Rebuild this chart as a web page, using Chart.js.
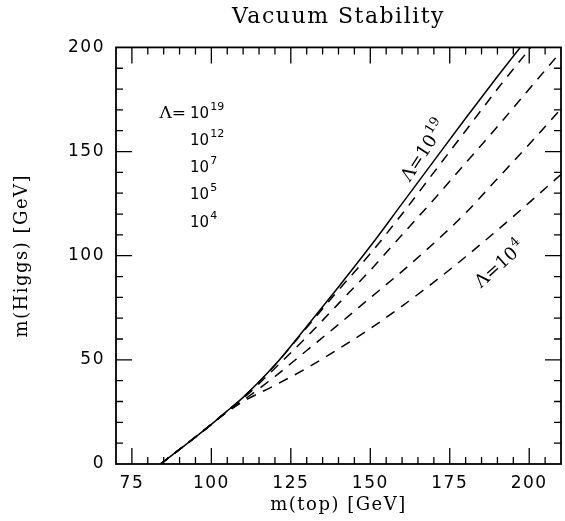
<!DOCTYPE html>
<html lang="en">

<head>
    <meta charset="UTF-8">
    <title>Vacuum Stability</title>
    <script src="https://cdn.jsdelivr.net/npm/chart.js@4.4.9/dist/chart.umd.min.js"></script>
    <style>
        body { margin: 0; background: #fff; }
        canvas { display: block; }
    </style>
</head>

<body>
    <canvas id="graficoHiggs" width="565" height="521"></canvas>
</body>

</html>
<script>
    const mTop = [84, 90, 100, 105, 110, 120, 130, 140, 150, 160, 170, 180, 190, 200, 210];
    // lower bound on m(Higgs) for each cutoff Lambda
    const higgs19 = [0, 7, 19, 25.5, 32, 47.5, 66, 85, 104.5, 125, 145.5, 166, 186, 205.5, 224.5];
    const higgs12 = [0, 7, 19, 25.5, 32, 47.5, 65.5, 83.5, 101, 120, 140, 160, 180, 199, 218];
    const higgs7 = [0, 7, 19, 25.5, 31.5, 46, 61, 77, 93, 110, 127, 144.5, 162, 180, 198];
    const higgs5 = [0, 7, 19, 25, 30.5, 42, 54.5, 67, 79.8, 92.5, 106, 120.5, 137, 153.5, 170.5];
    const higgs4 = [0, 7, 19, 25, 30, 37.8, 46, 55.2, 65, 75.8, 87.3, 99.5, 112.3, 125.5, 139];

    const xTicks = [75, 100, 125, 150, 175, 200];
    const yTicks = [0, 50, 100, 150, 200];
    const expoentes = ['19', '12', '7', '5', '4'];

    function pontos(ys) {
        return mTop.map(function (x, i) { return { x: x, y: ys[i] }; });
    }

    function serie(ys, tracejado) {
        return {
            data: pontos(ys),
            borderColor: '#000',
            borderWidth: 1.5,
            borderDash: tracejado ? [10, 8] : [],
            pointRadius: 0,
            cubicInterpolationMode: 'monotone',
            fill: false
        };
    }

    // base text + raised exponent, starting at x
    function textoExpoente(ctx, x, y, base, exp, fonteBase, fonteExp, subida) {
        ctx.font = fonteBase;
        ctx.fillText(base, x, y);
        const w = ctx.measureText(base).width;
        ctx.font = fonteExp;
        ctx.fillText(exp, x + w + 1, y - subida);
    }

    const moldura = {
        id: 'moldura',
        beforeDraw(chart) {
            chart.ctx.letterSpacing = '1.5px';
        },
        beforeDatasetsDraw(chart) {
            chart.ctx.letterSpacing = '0px';
        },
        afterDraw(chart) {
            const ctx = chart.ctx;
            const a = chart.chartArea;
            const sx = chart.scales.x;
            const sy = chart.scales.y;
            ctx.save();
            ctx.letterSpacing = '0px';
            ctx.strokeStyle = '#000';
            ctx.lineWidth = 1.8;
            ctx.strokeRect(a.left, a.top, a.right - a.left, a.bottom - a.top);

            // inward ticks on all four sides
            ctx.lineWidth = 1.3;
            ctx.beginPath();
            for (let v = sx.min + 5; v < sx.max; v += 5) {
                const px = sx.getPixelForValue(v);
                const len = v % 25 === 0 ? 16 : 7;
                ctx.moveTo(px, a.bottom); ctx.lineTo(px, a.bottom - len);
                ctx.moveTo(px, a.top); ctx.lineTo(px, a.top + len);
            }
            for (let v = sy.min + 10; v < sy.max; v += 10) {
                const py = sy.getPixelForValue(v);
                const len = v % 50 === 0 ? 16 : 7;
                ctx.moveTo(a.left, py); ctx.lineTo(a.left + len, py);
                ctx.moveTo(a.right, py); ctx.lineTo(a.right - len, py);
            }
            ctx.stroke();

            // list of cutoffs in the upper left
            ctx.fillStyle = '#000';
            ctx.textBaseline = 'alphabetic';
            for (let i = 0; i < expoentes.length; i++) {
                const px = sx.getPixelForValue(93.3);
                const py = sy.getPixelForValue(166 - i * 13);
                if (i === 0) {
                    ctx.font = '17px "DejaVu Serif"';
                    ctx.textAlign = 'right';
                    ctx.fillText('\u039B=', px - 4, py);
                }
                ctx.textAlign = 'left';
                textoExpoente(ctx, px, py, '10', expoentes[i], '15px "DejaVu Sans"', '11px "DejaVu Sans"', 8);
            }

            // labels along the 10^19 and 10^4 curves
            const rotulos = [
                { x: 167, y: 150, ang: -57, exp: '19' },
                { x: 190.8, y: 95.4, ang: -42, exp: '4' }
            ];
            rotulos.forEach(function (r) {
                ctx.save();
                ctx.translate(sx.getPixelForValue(r.x), sy.getPixelForValue(r.y));
                ctx.rotate(r.ang * Math.PI / 180);
                ctx.textBaseline = 'middle';
                ctx.textAlign = 'left';
                ctx.font = '18px "DejaVu Serif"';
                const w1 = ctx.measureText('\u039B=10').width;
                ctx.font = '13px "DejaVu Serif"';
                const w2 = ctx.measureText(r.exp).width;
                textoExpoente(ctx, -(w1 + w2) / 2, 0, '\u039B=10', r.exp, '18px "DejaVu Serif"', '13px "DejaVu Serif"', 7);
                ctx.restore();
            });
            ctx.restore();
        }
    };

    const config = {
        type: 'line',
        data: {
            datasets: [
                serie(higgs19, false),
                serie(higgs12, true),
                serie(higgs7, true),
                serie(higgs5, true),
                serie(higgs4, true)
            ]
        },
        options: {
            responsive: false,
            animation: false,
            layout: { padding: { left: 0, right: 4, top: 0, bottom: 0 } },
            plugins: {
                legend: { display: false },
                tooltip: { enabled: false },
                title: {
                    display: true,
                    text: 'Vacuum Stability',
                    fullSize: false,
                    color: '#000',
                    font: { family: 'DejaVu Serif', size: 22, weight: 'normal' },
                    padding: { top: 4, bottom: 17 }
                }
            },
            scales: {
                x: {
                    type: 'linear',
                    min: 70,
                    max: 210,
                    grid: { display: false, drawTicks: false },
                    border: { display: false },
                    afterBuildTicks: function (s) { s.ticks = xTicks.map(function (v) { return { value: v }; }); },
                    afterFit: function (s) { s.height = 57; },
                    ticks: {
                        color: '#000',
                        padding: 9,
                        maxRotation: 0,
                        autoSkip: false,
                        font: { family: 'DejaVu Sans', size: 17 }
                    },
                    title: {
                        display: true,
                        text: 'm(top) [GeV]',
                        color: '#000',
                        font: { family: 'DejaVu Serif', size: 18 },
                        padding: { top: 0, bottom: 5 }
                    }
                },
                y: {
                    min: 0,
                    max: 200,
                    grid: { display: false, drawTicks: false },
                    border: { display: false },
                    afterBuildTicks: function (s) { s.ticks = yTicks.map(function (v) { return { value: v }; }); },
                    afterFit: function (s) { s.width = 116; },
                    ticks: {
                        color: '#000',
                        padding: 11,
                        font: { family: 'DejaVu Sans', size: 17 }
                    },
                    title: {
                        display: true,
                        text: 'm(Higgs) [GeV]',
                        color: '#000',
                        font: { family: 'DejaVu Serif', size: 18 },
                        padding: { top: 12, bottom: 0 }
                    }
                }
            }
        },
        plugins: [moldura]
    };

    let grafico = new Chart(document.getElementById('graficoHiggs'), config);
</script>
